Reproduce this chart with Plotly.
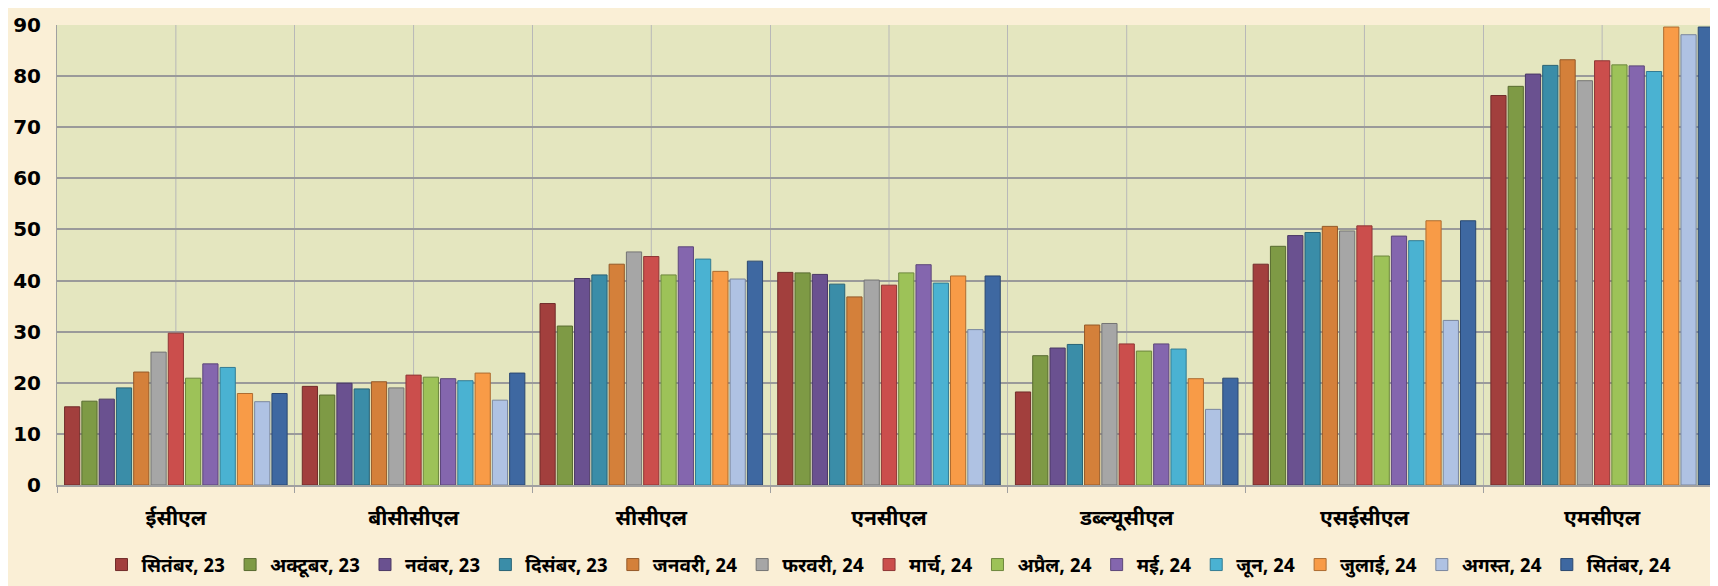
import plotly.graph_objects as go

categories = ["ईसीएल", "बीसीसीएल", "सीसीएल", "एनसीएल", "डब्ल्यूसीएल", "एसईसीएल", "एमसीएल"]

months = ["सितंबर, 23", "अक्टूबर, 23", "नवंबर, 23", "दिसंबर, 23", "जनवरी, 24", "फरवरी, 24",
          "मार्च, 24", "अप्रैल, 24", "मई, 24", "जून, 24", "जुलाई, 24", "अगस्त, 24", "सितंबर, 24"]

colors = ["#A23F3D", "#7E9A45", "#6A5190", "#3A8DA8", "#D4803A", "#A6A6A6",
          "#CB4E4C", "#9DC258", "#8466AE", "#4AB2D2", "#F89B47", "#AFC2E3", "#3E68A1"]

# values per month, one entry per company (ECL, BCCL, CCL, NCL, WCL, SECL, MCL)
sep23 = [15.3, 19.3, 35.5, 41.6, 18.2, 43.2, 76.2]
oct23 = [16.4, 17.6, 31.1, 41.5, 25.3, 46.7, 78.0]
nov23 = [16.8, 19.9, 40.4, 41.2, 26.8, 48.8, 80.4]
dec23 = [19.0, 18.8, 41.1, 39.3, 27.5, 49.4, 82.1]
jan24 = [22.1, 20.2, 43.2, 36.8, 31.3, 50.6, 83.2]
feb24 = [26.0, 19.0, 45.6, 40.1, 31.6, 49.7, 79.1]
mar24 = [29.7, 21.5, 44.7, 39.1, 27.6, 50.7, 83.0]
apr24 = [20.9, 21.1, 41.1, 41.5, 26.2, 44.8, 82.2]
may24 = [23.7, 20.8, 46.6, 43.1, 27.6, 48.7, 82.0]
jun24 = [23.0, 20.4, 44.2, 39.5, 26.6, 47.8, 80.9]
jul24 = [17.9, 21.9, 41.8, 40.9, 20.8, 51.7, 89.6]
aug24 = [16.3, 16.6, 40.3, 30.4, 14.8, 32.2, 88.1]
sep24 = [17.9, 21.9, 43.8, 40.9, 20.9, 51.7, 89.6]

series = [sep23, oct23, nov23, dec23, jan24, feb24, mar24, apr24, may24, jun24, jul24, aug24, sep24]

y_ticks = [0, 10, 20, 30, 40, 50, 60, 70, 80, 90]


def darker(hex_color, f=0.7):
    h = hex_color.lstrip("#")
    r, g, b = (int(h[i:i + 2], 16) for i in (0, 2, 4))
    return "rgb({},{},{})".format(int(r * f), int(g * f), int(b * f))


fig = go.Figure()
for name, vals, col in zip(months, series, colors):
    fig.add_trace(go.Bar(
        x=categories, y=vals, name="<b>" + name + "</b>",
        marker=dict(color=col, line=dict(color=darker(col), width=1)),
    ))

# vertical gridlines at category centres (boundary lines come from the axis grid)
for c in categories:
    fig.add_shape(type="line", xref="x", yref="paper", x0=c, x1=c, y0=0, y1=1,
                  line=dict(color="#B8B8B8", width=1), layer="below")

font_family = ("'Liberation Sans Narrow', 'Noto Sans Devanagari', 'Lohit Devanagari', "
               "'Mukta', 'FreeSans', 'Liberation Sans', Arial, sans-serif")

fig.update_layout(
    width=1718, height=586,
    margin=dict(l=48, r=5, t=12, b=109),
    paper_bgcolor="#FAEFD6",
    plot_bgcolor="#E4E6BF",
    barmode="group",
    bargap=0.055,
    bargroupgap=0.12,
    font=dict(family=font_family, color="#000000"),
    showlegend=True,
    legend=dict(
        orientation="h", x=0.5, xanchor="center",
        yref="container", y=0.05, yanchor="middle",
        font=dict(size=19, family=font_family, weight=700),
        itemwidth=30, traceorder="normal",
        bgcolor="rgba(0,0,0,0)",
    ),
    xaxis=dict(
        type="category", categoryorder="array", categoryarray=categories,
        tickvals=categories, ticktext=["<b>" + c + "</b>" for c in categories],
        tickson="boundaries", showgrid=True, gridcolor="#B8B8B8", gridwidth=1,
        ticks="outside", ticklen=6, tickcolor="#A0A0A0",
        showline=True, linecolor="#A0A0A0", linewidth=2,
        tickfont=dict(size=21, family=font_family, weight=700),
        ticklabelstandoff=13,
        range=[-0.5, 6.5],
    ),
    yaxis=dict(
        range=[0, 90], tickvals=y_ticks, ticktext=["<b>%d</b>" % t for t in y_ticks],
        showgrid=True, gridcolor="#9A9A9A", gridwidth=2,
        showline=True, linecolor="#A0A0A0", linewidth=1,
        zeroline=False,
        tickfont=dict(size=20, family="'DejaVu Sans', 'Liberation Sans', sans-serif", weight=700),
        ticks="", ticklabelstandoff=11,
    ),
)

fig.write_html("out.html")
